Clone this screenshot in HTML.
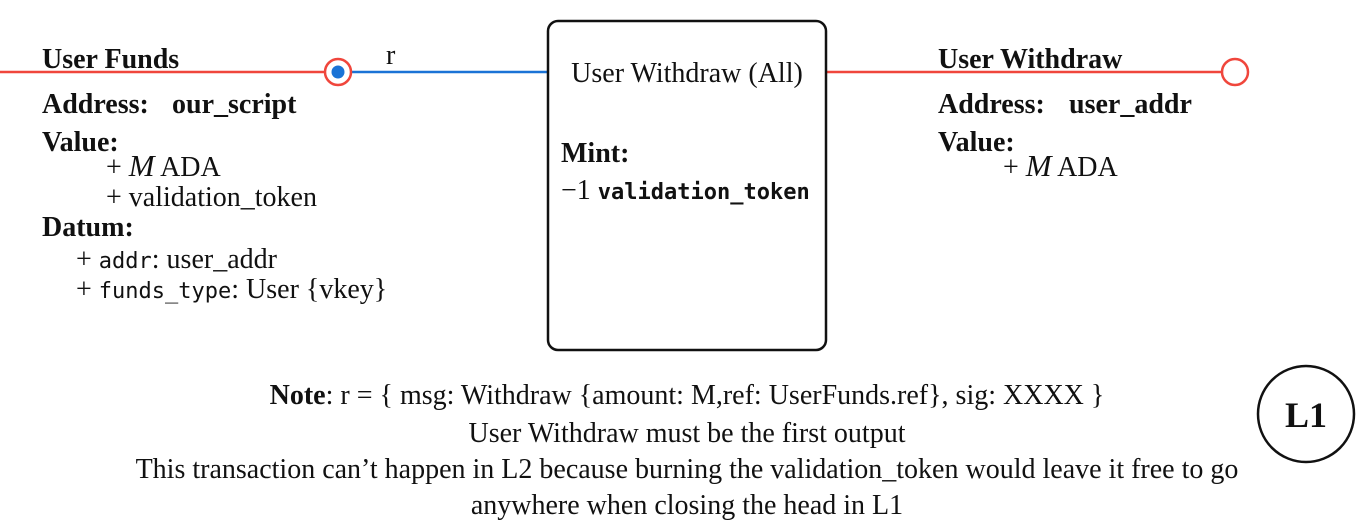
<!DOCTYPE html>
<html><head><style>
body{margin:0;background:#fff}
text{font-family:"Liberation Serif",serif;font-size:28px;fill:#111}
.b{font-weight:bold}
.m{font-family:"DejaVu Sans Mono","Liberation Mono",monospace;font-size:22px}
</style></head><body>
<svg width="1364" height="525" xmlns="http://www.w3.org/2000/svg">
<line x1="0" y1="72" x2="325" y2="72" stroke="#f0463c" stroke-width="2.5"/>
<line x1="340" y1="72" x2="548" y2="72" stroke="#1a73d6" stroke-width="2.5"/>
<circle cx="338" cy="72" r="13" fill="#fff" stroke="#f0463c" stroke-width="2.5"/>
<circle cx="338" cy="72" r="6.5" fill="#1a73d6"/>
<line x1="826" y1="72" x2="1222" y2="72" stroke="#f0463c" stroke-width="2.5"/>
<circle cx="1235" cy="72" r="13" fill="#fff" stroke="#f0463c" stroke-width="2.5"/>
<g transform="translate(0,2)">
<text x="386" y="62">r</text>
</g>
<rect x="548" y="21" width="278" height="329" rx="10" fill="#fff" stroke="#111" stroke-width="2.5"/>
<g transform="translate(0,2)">
<text x="687" y="80" text-anchor="middle">User Withdraw (All)</text>
<text x="561" y="160" class="b">Mint:</text>
<text x="561" y="197">−1 <tspan class="m b">validation_token</tspan></text>

<text x="42" y="66" class="b">User Funds</text>
<text x="42" y="111" class="b">Address:<tspan x="172">our_script</tspan></text>
<text x="42" y="149" class="b">Value:</text>
<text x="106" y="174">+ <tspan font-style="italic" font-size="31">M</tspan> ADA</text>
<text x="106" y="204">+ validation_token</text>
<text x="42" y="234" class="b">Datum:</text>
<text x="76" y="266">+ <tspan class="m">addr</tspan>: user_addr</text>
<text x="76" y="296">+ <tspan class="m">funds_type</tspan>: User {vkey}</text>

<text x="938" y="66" class="b">User Withdraw</text>
<text x="938" y="111" class="b">Address:<tspan x="1069">user_addr</tspan></text>
<text x="938" y="149" class="b">Value:</text>
<text x="1003" y="174">+ <tspan font-style="italic" font-size="31">M</tspan> ADA</text>

<text x="687" y="402" text-anchor="middle"><tspan class="b">Note</tspan>: r = { msg: Withdraw {amount: M,ref: UserFunds.ref}, sig: XXXX }</text>
<text x="687" y="440" text-anchor="middle">User Withdraw must be the first output</text>
<text x="687" y="476" text-anchor="middle">This transaction can’t happen in L2 because burning the validation_token would leave it free to go</text>
<text x="687" y="512" text-anchor="middle">anywhere when closing the head in L1</text>
</g>
<circle cx="1306" cy="414" r="48" fill="#fff" stroke="#111" stroke-width="2.5"/>
<text x="1306" y="427" text-anchor="middle" class="b" style="font-size:36px">L1</text>
</svg>
</body></html>
